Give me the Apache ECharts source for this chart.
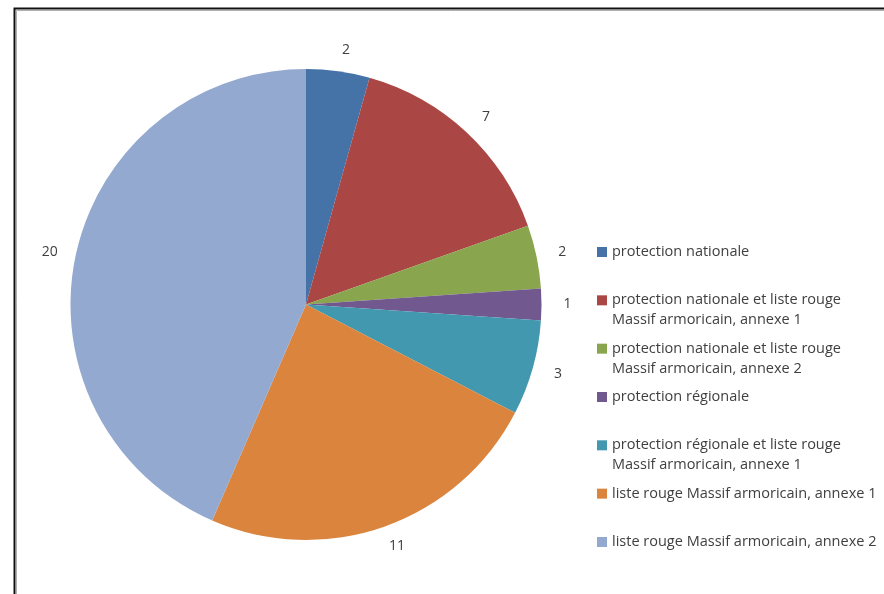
<!DOCTYPE html>
<html>
<head>
<meta charset="utf-8">
<script src="https://cdn.jsdelivr.net/npm/echarts@6/dist/echarts.min.js"></script>
<style>
  html, body { margin: 0; padding: 0; background: #fff; }
  #chart { width: 884px; height: 594px; }
</style>
</head>
<body>
<div id="chart"></div>
<script>
// Species counts by protection / red-list status
const categories = [
  'protection nationale',
  'protection nationale et liste rouge\nMassif armoricain, annexe 1',
  'protection nationale et liste rouge\nMassif armoricain, annexe 2',
  'protection régionale',
  'protection régionale et liste rouge\nMassif armoricain, annexe 1',
  'liste rouge Massif armoricain, annexe 1',
  'liste rouge Massif armoricain, annexe 2'
];
const counts = [2, 7, 2, 1, 3, 11, 20];
const colors = ['#4572A7', '#AA4643', '#89A54E', '#71588F', '#4198AF', '#DB843D', '#93A9CF'];

const FONT = '"Open Sans", sans-serif';
const TEXT = '#404040';

// One legend block per entry so each entry sits in its own equal slot;
// the swatch lines up with the first line of a two-line entry.
const legendTop0 = 252;     // centre of first line of first entry
const legendStep = 48.33;
const legends = categories.map((name, i) => {
  const twoLines = name.indexOf('\n') >= 0;
  const centre = legendTop0 + i * legendStep;
  return {
    orient: 'vertical',
    left: 597,
    top: twoLines ? centre - 30 : centre - 10,
    itemWidth: 10,
    itemHeight: 10,
    itemGap: 0,
    icon: 'rect',
    selectedMode: false,
    padding: 0,
    data: [name],
    formatter: n => (twoLines ? ' \n' + n : n),
    textStyle: {
      fontFamily: FONT,
      fontSize: 14.5,
      lineHeight: 20,
      color: TEXT
    }
  };
});

const chart = echarts.init(document.getElementById('chart'), null, { renderer: 'canvas' });
chart.setOption({
  backgroundColor: '#fff',
  animation: false,
  color: colors,
  legend: legends,
  graphic: [
    {
      type: 'rect',
      shape: { x: 16.5, y: 10.5, width: 900, height: 620 },
      style: { fill: 'none', stroke: '#b0b0b0', lineWidth: 1 },
      silent: true
    },
    {
      type: 'rect',
      shape: { x: 14.5, y: 8.5, width: 900, height: 620 },
      style: { fill: 'none', stroke: '#111', lineWidth: 2 },
      silent: true
    }
  ],
  series: [{
    type: 'pie',
    center: [306, 304.5],
    radius: [0, 235.5],
    startAngle: 90,
    clockwise: true,
    avoidLabelOverlap: false,
    itemStyle: { borderWidth: 0 },
    label: {
      show: true,
      position: 'outside',
      formatter: '{c}',
      fontFamily: FONT,
      fontSize: 14,
      color: TEXT
    },
    labelLine: { show: false, length: 21, length2: 0 },
    // centre each value label on its anchor point
    labelLayout: () => ({ align: 'center', verticalAlign: 'middle' }),
    emphasis: { disabled: true },
    data: categories.map((name, i) => ({ name, value: counts[i] }))
  }]
});
</script>
</body>
</html>
